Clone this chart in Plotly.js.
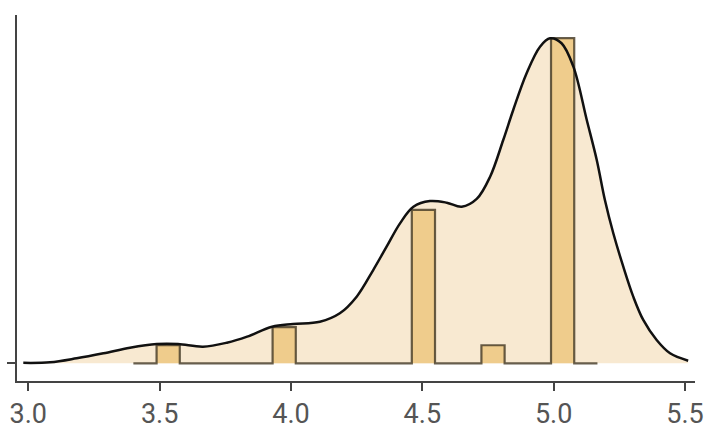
<!DOCTYPE html>
<html>
<head>
<meta charset="utf-8">
<script src="https://cdn.plot.ly/plotly-3.0.1.min.js"></script>
<style>
  html, body { margin: 0; padding: 0; background: #ffffff; }
  #chart { width: 708px; height: 430px; }
</style>
</head>
<body>
<div id="chart"></div>
<script>
// Histogram: 20 bins starting at binStart, each binWidth wide
const binStart = 3.40;
const binWidth = 0.08833;
const binCounts = [0, 2, 0, 0, 0, 0, 4, 0, 0, 0, 0, 0, 17, 0, 0, 2, 0, 0, 36, 0];

// Density curve, in the same units as the counts
const kdeX = [2.981, 3.083, 3.184, 3.286, 3.387, 3.489, 3.570, 3.665, 3.756, 3.833,
              3.928, 4.008, 4.110, 4.186, 4.250, 4.313, 4.364, 4.415, 4.466, 4.529,
              4.593, 4.650, 4.707, 4.758, 4.808, 4.846, 4.897, 4.948, 4.986, 5.030,
              5.075, 5.126, 5.164, 5.195, 5.227, 5.265, 5.303, 5.341, 5.392, 5.443, 5.512];
const kdeY = [0.05, 0.11, 0.55, 1.11, 1.73, 2.14, 2.14, 1.84, 2.28, 2.95,
              4.05, 4.35, 4.61, 5.54, 7.38, 10.33, 12.91, 15.50, 17.34, 17.97,
              17.79, 17.34, 18.20, 20.66, 24.73, 28.05, 32.12, 35.06, 35.99, 35.44,
              32.85, 26.94, 22.51, 18.08, 14.40, 10.70, 7.38, 4.80, 2.58, 1.11, 0.29];

const xTickVals = [3.0, 3.5, 4.0, 4.5, 5.0, 5.5];
const xTickText = ['3.0', '3.5', '4.0', '4.5', '5.0', '5.5'];

// build step outline from bins
const edges = [];
for (let i = 0; i <= binCounts.length; i++) edges.push(binStart + i * binWidth);
const stepY = binCounts.concat([0]);

const traces = [
  {
    type: 'scatter', mode: 'lines', x: kdeX, y: kdeY,
    line: { shape: 'spline', smoothing: 1, width: 0, color: 'rgba(0,0,0,0)' },
    fill: 'tozeroy', fillcolor: '#F8E9D1',
    hoverinfo: 'skip', showlegend: false
  },
  {
    type: 'scatter', mode: 'lines', x: edges, y: stepY,
    line: { shape: 'hv', width: 2.2, color: 'rgba(65,55,35,0.8)' },
    fill: 'tozeroy', fillcolor: '#EFCC8C',
    hoverinfo: 'skip', showlegend: false
  },
  {
    type: 'scatter', mode: 'lines', x: kdeX, y: kdeY,
    line: { shape: 'spline', smoothing: 1, width: 2.5, color: '#111111' },
    hoverinfo: 'skip', showlegend: false
  }
];

const layout = {
  width: 708, height: 430,
  margin: { l: 17, r: 13, t: 15, b: 49, pad: 0 },
  paper_bgcolor: '#ffffff', plot_bgcolor: '#ffffff',
  showlegend: false,
  font: { family: 'Roboto, "DejaVu Sans", sans-serif', color: '#555555' },
  xaxis: {
    range: [2.957, 5.538],
    tickvals: xTickVals, ticktext: xTickText,
    ticks: 'outside', ticklen: 8, tickwidth: 2, tickcolor: '#444444',
    showline: true, linecolor: '#444444', linewidth: 2,
    showgrid: false, zeroline: false,
    tickfont: { size: 27, color: '#555555', family: 'Roboto, sans-serif' }
  },
  yaxis: {
    range: [-1.96, 38.57],
    tickvals: [0], showticklabels: false,
    ticks: 'outside', ticklen: 8, tickwidth: 2, tickcolor: '#444444',
    showline: true, linecolor: '#444444', linewidth: 2,
    showgrid: false, zeroline: false
  }
};

Plotly.newPlot('chart', traces, layout, { displayModeBar: false, staticPlot: true });
</script>
</body>
</html>
